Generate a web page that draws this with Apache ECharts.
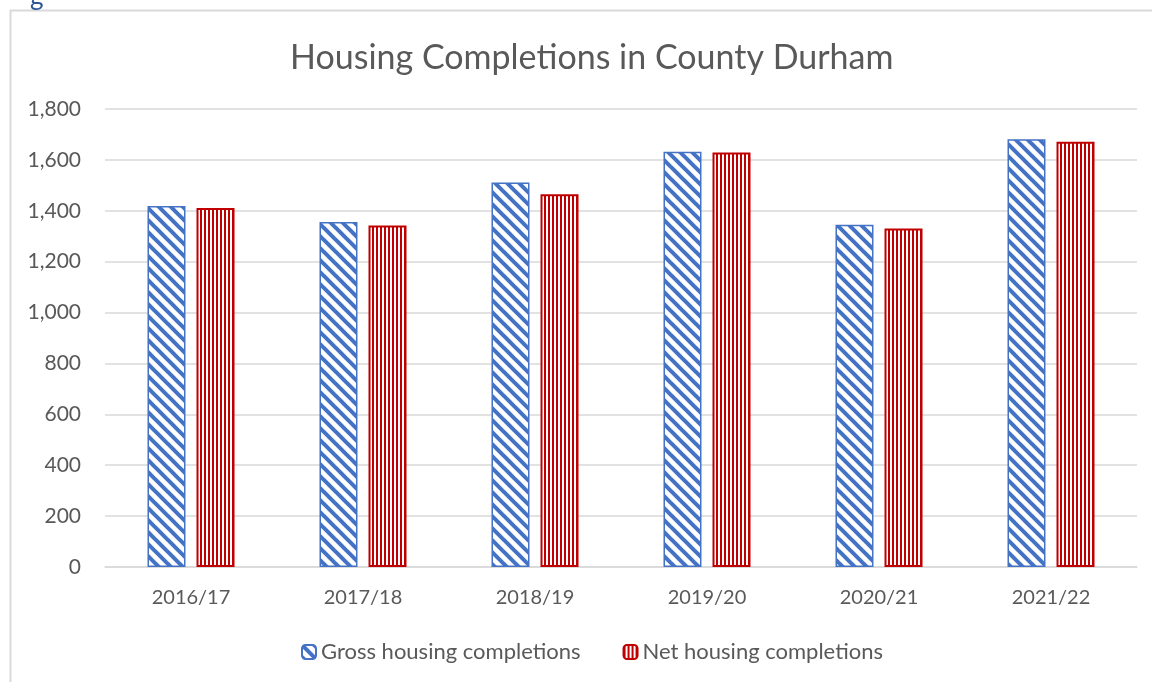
<!DOCTYPE html>
<html>
<head>
<meta charset="utf-8">
<script src="https://cdn.jsdelivr.net/npm/echarts@6/dist/echarts.min.js"></script>
<style>html,body{margin:0;padding:0;background:#fff}#c{width:1152px;height:682px}</style>
</head>
<body>
<div id="c"></div>
<script>
const categories = ['2016/17', '2017/18', '2018/19', '2019/20', '2020/21', '2021/22'];
const grossCompletions = [1419, 1356, 1511, 1632, 1345, 1681];
const netCompletions = [1411, 1342, 1465, 1629, 1330, 1671];
const yTicks = [0, 200, 400, 600, 800, 1000, 1200, 1400, 1600, 1800];

function diagPattern() {
  const s = 12;
  const c = document.createElement('canvas');
  c.width = s; c.height = s;
  const g = c.getContext('2d');
  g.fillStyle = '#ffffff'; g.fillRect(0, 0, s, s);
  g.strokeStyle = '#4472C4'; g.lineWidth = 4;
  for (const k of [-s, 0, s]) {
    g.beginPath(); g.moveTo(-2, -2 + k); g.lineTo(s + 2, s + 2 + k); g.stroke();
  }
  return c;
}
function vertPattern() {
  const c = document.createElement('canvas');
  c.width = 4; c.height = 4;
  const g = c.getContext('2d');
  g.fillStyle = '#ffffff'; g.fillRect(0, 0, 4, 4);
  g.fillStyle = '#C00000'; g.fillRect(0, 0, 2, 4);
  return c;
}

const chart = echarts.init(document.getElementById('c'));
const font = 'Lato, "Open Sans", sans-serif';
chart.setOption({
  animation: false,
  textStyle: { fontFamily: font },
  title: {
    text: 'Housing Completions in County Durham',
    left: 285, top: 36,
    textStyle: { fontFamily: font, fontSize: 34, fontWeight: 'normal', color: '#595959' }
  },
  graphic: [
    { type: 'rect', shape: { x: 10.5, y: 10.5, width: 1200, height: 700 }, style: { fill: 'none', stroke: '#d9d9d9', lineWidth: 2 }, silent: true },
    { type: 'text', left: 30, top: -16, style: { text: 'g', fill: '#2F5597', font: '26px Lato' } }
  ],
  legend: {
    bottom: 14, left: 296,
    itemWidth: 14, itemHeight: 14, itemGap: 42,
    textStyle: { fontFamily: font, fontSize: 22, color: '#595959' },
    data: ['Gross housing completions', 'Net housing completions']
  },
  grid: { left: 105, right: 15, top: 109, bottom: 115, containLabel: false },
  xAxis: {
    type: 'category', data: categories,
    axisLine: { lineStyle: { color: '#d9d9d9', width: 1.5 } },
    axisTick: { show: false },
    axisLabel: { color: '#595959', fontSize: 20, margin: 21, fontFamily: font }
  },
  yAxis: {
    type: 'value', min: yTicks[0], max: yTicks[yTicks.length - 1], interval: 200,
    axisLine: { show: false }, axisTick: { show: false },
    splitLine: { lineStyle: { color: '#d9d9d9', width: 1.5 } },
    axisLabel: { color: '#595959', fontSize: 21, margin: 24, fontFamily: font,
      formatter: v => v.toLocaleString('en-US') }
  },
  series: [
    {
      name: 'Gross housing completions', type: 'bar', data: grossCompletions,
      barWidth: 38, barGap: '29%',
      itemStyle: { color: { image: diagPattern(), repeat: 'repeat' }, borderColor: '#4472C4', borderWidth: 1.5 }
    },
    {
      name: 'Net housing completions', type: 'bar', data: netCompletions,
      barWidth: 38,
      itemStyle: { color: { image: vertPattern(), repeat: 'repeat' }, borderColor: '#C00000', borderWidth: 2 }
    }
  ]
});
</script>
</body>
</html>
